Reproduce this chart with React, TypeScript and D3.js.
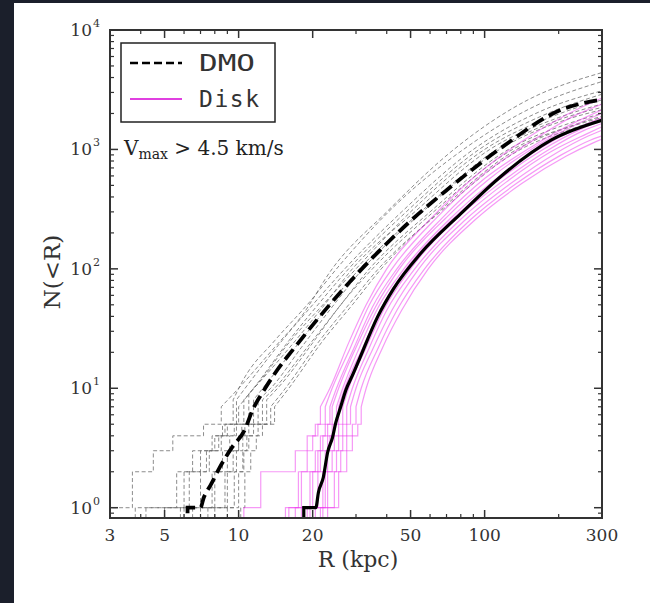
import React from "react";
import * as d3 from "d3";

// ---------- data ----------
const xTickMajor = [3, 5, 10, 20, 50, 100, 300];
const xTickMinor = [4, 6, 7, 8, 9, 30, 40, 60, 70, 80, 90, 200];
const yTickMajor = [1, 10, 100, 1000, 10000];
const yTickExp = ["0", "1", "2", "3", "4"];

// mean curves
const dmoMeanR = [6.2, 7.0, 7.2, 7.7, 8.4, 9.4, 10.6, 11.4, 12.5, 14.1, 17, 21.6, 26, 31.4, 40, 50.4, 70, 117, 206, 300];
const dmoMeanN = [1, 1, 1.2, 1.55, 2.2, 3.2, 4.5, 6.6, 9.2, 13.5, 22.3, 41, 64, 98, 163, 256, 455, 1035, 2160, 2610];
const diskMeanR = [18.4, 20.6, 21.1, 22.1, 23, 24.1, 24.8, 26, 27.3, 29.1, 30.5, 36.8, 42.6, 55, 80, 117, 187, 300];
const diskMeanN = [1, 1, 1.34, 1.8, 2.9, 3.9, 5.1, 7, 9.7, 13, 16.3, 40, 68, 135, 290, 600, 1200, 1750];

// individual DMO hosts: radii of the first five counts, then [R, N] points
const dmoSteps = [
  [2.5, 3.7, 4.5, 5.4, 7.2],
  [3.8, 6.0, 6.5, 7.8, 8.6],
  [5.8, 6.3, 7.0, 8.0, 8.8],
  [4.2, 5.6, 7.4, 8.3, 9.0],
  [6.0, 7.0, 7.6, 8.5, 9.6],
  [7.0, 7.8, 8.6, 9.2, 9.8],
  [6.5, 8.0, 9.0, 10.0, 10.3],
  [8.0, 8.8, 9.5, 10.0, 10.6],
  [5.0, 9.0, 9.8, 10.4, 11.0],
  [9.0, 9.6, 10.4, 10.8, 11.5],
  [7.5, 10.0, 10.5, 11.0, 12.0],
  [10.2, 10.6, 11.2, 11.8, 12.5],
];
const dmoSmooth = [
  [[8.5, 7], [10, 10], [14, 22], [18, 40], [24, 100], [40, 300], [75, 1000], [150, 2600], [300, 4400]],
  [[9.5, 8], [10.5, 12], [14, 25], [19, 50], [26, 110], [42, 320], [82, 1000], [160, 2300], [300, 3700]],
  [[9.8, 8], [11, 11], [15, 25], [20, 50], [27, 100], [46, 300], [90, 1000], [170, 2100], [300, 3100]],
  [[10, 7], [11.5, 10], [16, 25], [21, 50], [28, 100], [48, 300], [95, 1000], [180, 2000], [300, 2900]],
  [[10.5, 8], [12, 11], [16, 24], [22, 50], [30, 100], [50, 300], [100, 1000], [190, 1900], [300, 2600]],
  [[11, 9], [12.5, 12], [17, 25], [22, 48], [29, 100], [52, 300], [105, 1000], [200, 1850], [300, 2400]],
  [[11.5, 8], [13, 11], [17, 22], [23, 48], [31, 100], [55, 300], [112, 1000], [205, 1800], [300, 2250]],
  [[12, 8], [13.5, 10], [18, 22], [24, 48], [32, 100], [56, 300], [115, 1000], [210, 1750], [300, 2150]],
  [[12.5, 8], [14, 10], [19, 22], [25, 45], [34, 100], [60, 300], [125, 1000], [220, 1650], [300, 2000]],
  [[13, 8], [15, 11], [20, 24], [26, 50], [35, 100], [62, 300], [130, 1000], [230, 1600], [300, 1900]],
  [[13.5, 7], [15.5, 10], [21, 24], [28, 50], [37, 100], [66, 300], [140, 1000], [240, 1550], [300, 1800]],
  [[14, 7], [16, 10], [22, 25], [29, 50], [38, 100], [65, 300], [135, 1000], [235, 1600], [300, 1850]],
];

// individual Disk hosts
const diskSteps = [
  [10.5, 12.3, 17, 19, 20.5],
  [15.5, 17.5, 19, 20, 21],
  [16, 18, 20.5, 21.5, 22.5],
  [17, 19.5, 21, 22, 23],
  [18, 20, 21.5, 23, 24],
  [19, 21, 22.5, 23.5, 24.5],
  [19.5, 22, 23, 24.5, 25.5],
  [20.5, 22.5, 24, 25.5, 26.5],
  [21.5, 23, 25, 26.5, 27.5],
  [22, 24.5, 26, 27.5, 29],
  [23, 25.5, 27.5, 29, 30.5],
];
const diskSmooth = [
  [[21.5, 7], [23.5, 10], [28, 24], [33, 50], [40, 100], [60, 260], [90, 580], [140, 1150], [220, 2000], [300, 2700]],
  [[22.5, 7], [24, 10], [28.5, 22], [34, 50], [42, 100], [64, 270], [95, 580], [150, 1120], [230, 1900], [300, 2400]],
  [[23.5, 7], [25, 10], [29.5, 22], [35, 48], [44, 100], [67, 265], [100, 570], [155, 1050], [235, 1700], [300, 2150]],
  [[24, 7], [25.5, 10], [30, 22], [36, 48], [45, 100], [70, 270], [105, 570], [160, 1050], [240, 1650], [300, 2000]],
  [[25, 7], [26.5, 10], [31, 22], [37, 48], [47, 100], [72, 260], [108, 540], [165, 1000], [245, 1550], [300, 1850]],
  [[25.5, 7], [27, 10], [32, 22], [38, 47], [48, 100], [74, 260], [112, 540], [170, 980], [250, 1500], [300, 1750]],
  [[26.5, 7], [28, 10], [33, 22], [39, 46], [50, 100], [78, 270], [118, 540], [180, 980], [255, 1450], [300, 1650]],
  [[27.5, 7], [29, 10], [34, 22], [40, 45], [52, 100], [80, 260], [122, 530], [185, 950], [260, 1350], [300, 1550]],
  [[28.5, 7], [30, 10], [35, 21], [42, 45], [54, 100], [84, 260], [128, 520], [195, 930], [265, 1300], [300, 1450]],
  [[30, 7], [31.5, 10], [37, 22], [44, 45], [57, 100], [88, 260], [135, 520], [205, 900], [270, 1200], [300, 1300]],
  [[31.5, 7], [33, 10], [38.5, 22], [46, 45], [59, 100], [92, 260], [142, 520], [215, 880], [275, 1130], [300, 1220]],
];

// ---------- layout ----------
const W = 650, H = 603;
const L = 110, R = 602, T = 30, B = 518;
const x = d3.scaleLog().domain([3, 300]).range([L, R]);
const y = d3.scaleLog().domain([0.82, 10000]).range([B, T]);
const serif = "'DejaVu Serif', 'Liberation Serif', serif";
const mono = "'DejaVu Sans Mono', 'Liberation Mono', monospace";

const linLine = d3.line<[number, number]>().x(d => x(d[0])).y(d => y(d[1]));
const smoothLine = d3.line<[number, number]>().x(d => x(d[0])).y(d => y(d[1])).curve(d3.curveMonotoneX);

function stepPath(steps: number[], smooth: number[][]): string {
  const pts: [number, number][] = [[steps[0], 0.3]];
  steps.forEach((r, i) => {
    pts.push([r, i + 1]);
    const next = i < steps.length - 1 ? steps[i + 1] : smooth[0][0];
    pts.push([next, i + 1]);
  });
  const a = linLine(pts) || "";
  const b = (smoothLine(smooth as [number, number][]) || "").replace(/^M/, "L");
  return a + b;
}

function meanPath(rs: number[], ns: number[]): string {
  const start = linLine([[rs[0], 0.3], [rs[0], ns[0]]]) || "";
  const pts = rs.map((r, i) => [r, ns[i]] as [number, number]);
  return start + (smoothLine(pts) || "").replace(/^M/, "L");
}

export default function App() {
  const yMinor: number[] = [0.9];
  [1, 10, 100, 1000].forEach(d => { for (let k = 2; k <= 9; k++) yMinor.push(d * k); });
  const axisColor = "#333";
  return (
    <svg width={W} height={H} style={{ position: "absolute", left: 0, top: 0 }}>
      <rect x={0} y={0} width={W} height={H} fill="#1b1f2b" />
      <rect x={14} y={3} width={W - 14} height={H - 3} fill="#ffffff" />
      <defs>
        <clipPath id="plotclip">
          <rect x={L} y={T} width={R - L} height={B - T} />
        </clipPath>
      </defs>
      <g clipPath="url(#plotclip)">
        {dmoSteps.map((s, i) => (
          <path key={"d" + i} d={stepPath(s, dmoSmooth[i])} fill="none" stroke="#666" strokeOpacity={0.75}
            strokeWidth={1} strokeDasharray="4,2.5" />
        ))}
        {diskSteps.map((s, i) => (
          <path key={"m" + i} d={stepPath(s, diskSmooth[i])} fill="none" stroke="#ee33ee" strokeOpacity={0.5}
            strokeWidth={1.2} />
        ))}
        <path d={meanPath(dmoMeanR, dmoMeanN)} fill="none" stroke="#000" strokeWidth={3.8} strokeDasharray="13,6" />
        <path d={meanPath(diskMeanR, diskMeanN)} fill="none" stroke="#000" strokeWidth={3.2} />
      </g>
      {/* frame */}
      <rect x={L} y={T} width={R - L} height={B - T} fill="none" stroke={axisColor} strokeWidth={2} />
      {/* x ticks */}
      {xTickMajor.map(v => (
        <g key={"xM" + v}>
          <line x1={x(v)} x2={x(v)} y1={B} y2={B - 8} stroke={axisColor} strokeWidth={1.5} />
          <line x1={x(v)} x2={x(v)} y1={T} y2={T + 8} stroke={axisColor} strokeWidth={1.5} />
          <text x={x(v)} y={541} textAnchor="middle" fontFamily={serif} fontSize={17} fill="#333">{v}</text>
        </g>
      ))}
      {xTickMinor.map(v => (
        <g key={"xm" + v}>
          <line x1={x(v)} x2={x(v)} y1={B} y2={B - 4} stroke={axisColor} strokeWidth={1.2} />
          <line x1={x(v)} x2={x(v)} y1={T} y2={T + 4} stroke={axisColor} strokeWidth={1.2} />
        </g>
      ))}
      {/* y ticks */}
      {yTickMajor.map((v, i) => (
        <g key={"yM" + v}>
          <line x1={L} x2={L + 8} y1={y(v)} y2={y(v)} stroke={axisColor} strokeWidth={1.5} />
          <line x1={R} x2={R - 8} y1={y(v)} y2={y(v)} stroke={axisColor} strokeWidth={1.5} />
          <text x={92} y={y(v) + 6} textAnchor="end" fontFamily={serif} fontSize={17} fill="#333">10</text>
          <text x={93} y={y(v) - 3} textAnchor="start" fontFamily={serif} fontSize={11} fill="#333">{yTickExp[i]}</text>
        </g>
      ))}
      {yMinor.map(v => (
        <g key={"ym" + v}>
          <line x1={L} x2={L + 4} y1={y(v)} y2={y(v)} stroke={axisColor} strokeWidth={1.2} />
          <line x1={R} x2={R - 4} y1={y(v)} y2={y(v)} stroke={axisColor} strokeWidth={1.2} />
        </g>
      ))}
      {/* axis labels */}
      <text x={358} y={567} textAnchor="middle" fontFamily={serif} fontSize={22} fill="#333">R (kpc)</text>
      <text transform="translate(60,272) rotate(-90)" textAnchor="middle" fontFamily={serif} fontSize={23} fill="#333">N(&lt;R)</text>
      {/* legend */}
      <rect x={121} y={43} width={154} height={79} fill="#fff" stroke="#222" strokeWidth={1.5} />
      <line x1={130} x2={182} y1={63} y2={63} stroke="#000" strokeWidth={2.5} strokeDasharray="8,4" />
      <text x={199} y={71} fontFamily={mono} fontSize={23} fill="#333" textLength={56} lengthAdjust="spacingAndGlyphs">DMO</text>
      <line x1={130} x2={182} y1={99} y2={99} stroke="#e040e0" strokeWidth={2.2} />
      <text x={199} y={107} fontFamily={mono} fontSize={23} fill="#333" textLength={60} lengthAdjust="spacing">Disk</text>
      {/* annotation */}
      <text x={124} y={155} fontFamily={serif} fontSize={20} fill="#222">
        V<tspan fontSize={14} dy={4}>max</tspan><tspan dy={-4}> &gt; 4.5 km/s</tspan>
      </text>
    </svg>
  );
}
